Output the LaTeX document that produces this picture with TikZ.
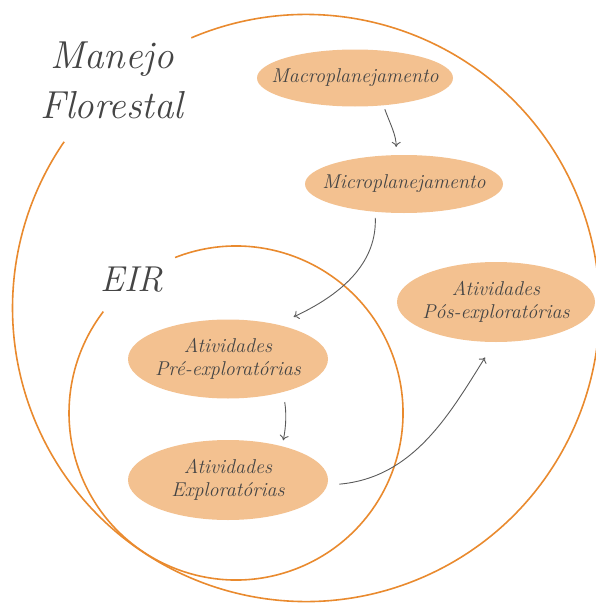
\documentclass[tikz,border=0pt]{standalone}
\usepackage{fontspec}
\usetikzlibrary{shapes,arrows.meta}
\definecolor{ringorange}{HTML}{E98A2E}
\definecolor{blobfill}{HTML}{F3C190}
\definecolor{inkgray}{HTML}{454545}
\definecolor{arrowgray}{HTML}{5A5A5A}
\tikzset{
  ring/.style={draw=ringorange,line width=1.6pt},
  blob/.style={shape=ellipse,fill=blobfill,inner sep=0pt},
  blobtext/.style={align=center,text=inkgray,inner sep=0pt,font=\itshape\fontsize{20}{23}\selectfont},
  flow/.style={draw=arrowgray,line width=0.9pt,-{To[length=5pt,width=9pt]}},
  heading/.style={align=center,text=inkgray,font=\itshape\fontsize{39}{50}\selectfont}
}
\begin{document}
\begin{tikzpicture}[x=1pt,y=-1pt]
\useasboundingbox (0,0) rectangle (596,605);
\draw[ring] (306,308) ++(-113:293.5) arc[start angle=-113,end angle=214.5,radius=293.5];
\draw[ring] (236,413) ++(-111.4:167) arc[start angle=-111.4,end angle=217.4,radius=167];

\node[heading] (manejo) at (112,80) {Manejo\\Florestal};
\node[heading,font=\itshape\fontsize{36}{40}\selectfont] (eir) at (132,280) {EIR};

\node[blob,minimum width=196,minimum height=57,label={[blobtext]center:Macroplanejamento}] (macro) at (355,78) {};
\node[blob,minimum width=198,minimum height=58,label={[blobtext]center:Microplanejamento}] (micro) at (404,184) {};
\node[blob,minimum width=200,minimum height=79,label={[blobtext]center:{Atividades\\Pré-exploratórias}}] (pre) at (228,359) {};
\node[blob,minimum width=200,minimum height=80,label={[blobtext]center:{Atividades\\Exploratórias}}] (expl) at (228,480) {};
\node[blob,minimum width=198,minimum height=80,label={[blobtext]center:{Atividades\\Pós-exploratórias}}] (pos) at (496,302) {};

\draw[flow,shorten <=4pt,shorten >=8pt] (macro.-44) to[out=-70,in=90] (micro.105);
\draw[flow,shorten <=6pt,shorten >=18pt] (micro.-136) to[out=-88,in=25] (pre.35);
\draw[flow,shorten <=10pt,shorten >=6pt] (pre.-31) to[bend left=10] (expl.32);
\draw[flow,shorten <=12pt,shorten >=18pt] (expl.-3) to[out=5,in=-122] (pos.-92);
\end{tikzpicture}
\end{document}
